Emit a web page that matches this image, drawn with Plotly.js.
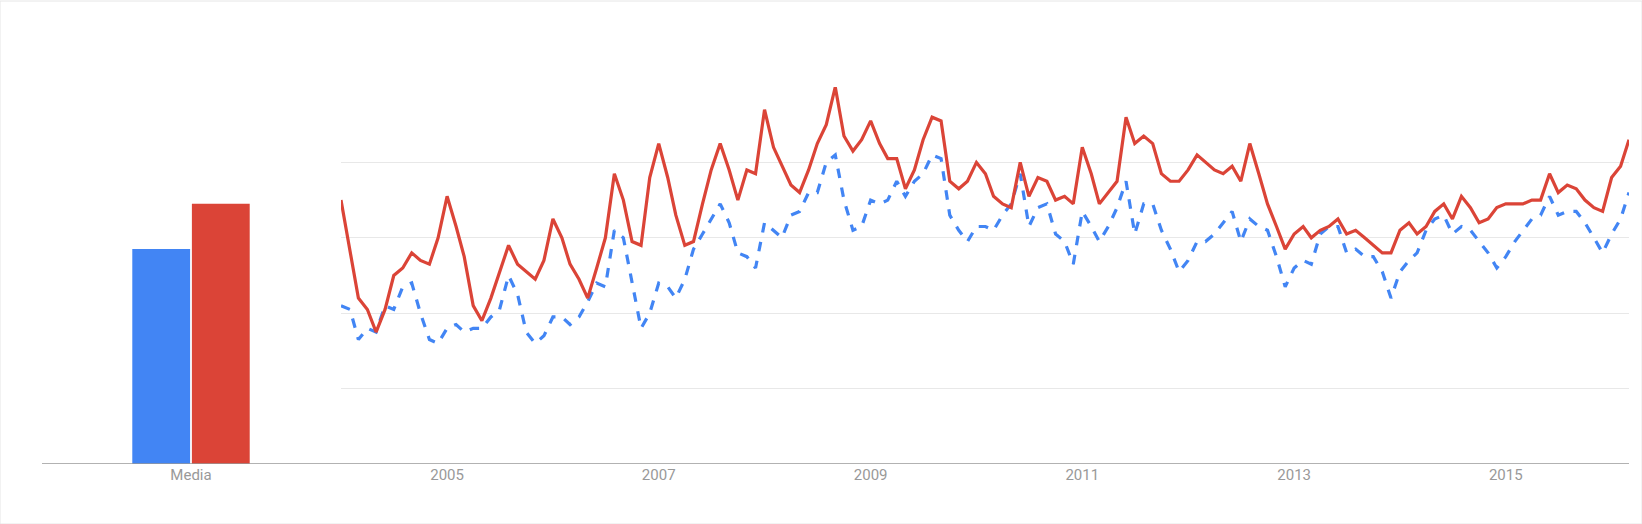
<!DOCTYPE html>
<html>
<head>
<meta charset="utf-8">
<script src="https://cdn.plot.ly/plotly-3.0.1.min.js"></script>
<style>
  body { margin: 0; background: #fff; }
  #chart { width: 1642px; height: 524px; }
</style>
</head>
<body>
<div id="chart"></div>
<script>
// monthly interest, Jan 2004 .. Mar 2016
const startMonth = '2004-01-01'
const blueSeries = [
  42, 41, 33, 36, 35, 42, 41, 47, 48, 40, 33, 32, 36, 37, 35, 36, 36, 39, 41, 50,
  45, 35, 32, 34, 39, 39, 37, 39, 43, 48, 47, 62, 60, 48, 36, 40, 48, 47, 44, 49,
  57, 61, 65, 69, 64, 56, 55, 52, 64, 62, 60, 66, 67, 72, 72, 80, 82, 70, 62, 63,
  70, 69, 70, 75, 71, 75, 77, 82, 81, 66, 62, 59, 63, 63, 62, 66, 69, 77, 63, 68,
  69, 61, 59, 53, 67, 63, 59, 63, 68, 75, 61, 69, 69, 62, 57, 51, 54, 59, 59, 61,
  64, 67, 59, 65, 63, 62, 55, 47, 52, 54, 53, 61, 63, 63, 56, 57, 55, 55, 51, 44,
  51, 54, 56, 62, 65, 66, 61, 63, 62, 59, 56, 52, 55, 59, 62, 65, 66, 71, 66, 67,
  67, 64, 60, 56, 61, 65, 72
]
const redSeries = [
  70, 57, 44, 41, 35, 41, 50, 52, 56, 54, 53, 60, 71, 63, 55, 42, 38, 44, 51, 58,
  53, 51, 49, 54, 65, 60, 53, 49, 44, 52, 60, 77, 70, 59, 58, 76, 85, 76, 66, 58,
  59, 69, 78, 85, 78, 70, 78, 77, 94, 84, 79, 74, 72, 78, 85, 90, 100, 87, 83, 86,
  91, 85, 81, 81, 73, 78, 86, 92, 91, 75, 73, 75, 80, 77, 71, 69, 68, 80, 71, 76,
  75, 70, 71, 69, 84, 77, 69, 72, 75, 92, 85, 87, 85, 77, 75, 75, 78, 82, 80, 78,
  77, 79, 75, 85, 77, 69, 63, 57, 61, 63, 60, 62, 63, 65, 61, 62, 60, 58, 56, 56,
  62, 64, 61, 63, 67, 69, 65, 71, 68, 64, 65, 68, 69, 69, 69, 70, 70, 77, 72, 74,
  73, 70, 68, 67, 76, 79, 86
]
const barCategory = ['Media']
const blueAverage = [57]
const redAverage = [69]
const yearTicks = ['2005-01-01', '2007-01-01', '2009-01-01', '2011-01-01', '2013-01-01', '2015-01-01']
const yearLabels = ['2005', '2007', '2009', '2011', '2013', '2015']

const BLUE = '#4285f4'
const RED = '#db4437'
const W = 1642

const months = blueSeries.map((_, i) => {
  const d = new Date(Date.UTC(2004, i, 1))
  return d.toISOString().slice(0, 10)
})

const data = [{
  type: 'bar', x: barCategory, y: blueAverage, xaxis: 'x', yaxis: 'y',
  marker: { color: BLUE }, hoverinfo: 'y'
}, {
  type: 'bar', x: barCategory, y: redAverage, xaxis: 'x', yaxis: 'y',
  marker: { color: RED }, hoverinfo: 'y'
}, {
  type: 'scatter', mode: 'lines', x: months, y: blueSeries, xaxis: 'x2', yaxis: 'y2',
  line: { color: BLUE, width: 3.2, dash: 'dash' }, cliponaxis: false
}, {
  type: 'scatter', mode: 'lines', x: months, y: redSeries, xaxis: 'x2', yaxis: 'y2',
  line: { color: RED, width: 3.2 }, cliponaxis: false
}]

const tickFont = { family: 'Roboto, Arial, sans-serif', size: 15, color: '#999' }

const layout = {
  width: 1642,
  height: 524,
  margin: { l: 0, r: 0, t: 87, b: 60 },
  paper_bgcolor: '#fff',
  plot_bgcolor: 'rgba(0,0,0,0)',
  showlegend: false,
  barmode: 'group',
  bargap: 0.6,
  bargroupgap: 0.03,
  xaxis: {
    domain: [42 / W, 340 / W], showgrid: false, zeroline: false, showline: false,
    ticks: '', tickfont: tickFont, fixedrange: true
  },
  yaxis: {
    range: [0, 100], showgrid: false, zeroline: false, showticklabels: false
  },
  xaxis2: {
    domain: [341 / W, 1629 / W], type: 'date', anchor: 'y2',
    range: [months[0], months[months.length - 1]],
    tickvals: yearTicks, ticktext: yearLabels, tickfont: tickFont,
    showgrid: false, zeroline: false, showline: false, ticks: ''
  },
  yaxis2: {
    range: [0, 100], anchor: 'x2', overlaying: 'y', tickvals: [20, 40, 60, 80, 100],
    showticklabels: false, showgrid: true, gridcolor: '#e8e8e8', gridwidth: 1,
    zeroline: false
  },
  shapes: [{
    type: 'line', xref: 'paper', yref: 'y', x0: 42 / W, x1: 1629 / W, y0: 0, y1: 0,
    line: { color: '#999', width: 1.5 }
  }, {
    type: 'rect', xref: 'paper', yref: 'paper', x0: 0, x1: 1, y0: -60 / 377, y1: 1 + 86 / 377,
    line: { color: '#e6e6e6', width: 1 }
  }]
}

Plotly.newPlot('chart', data, layout, { displayModeBar: false, staticPlot: true })
</script>
</body>
</html>
